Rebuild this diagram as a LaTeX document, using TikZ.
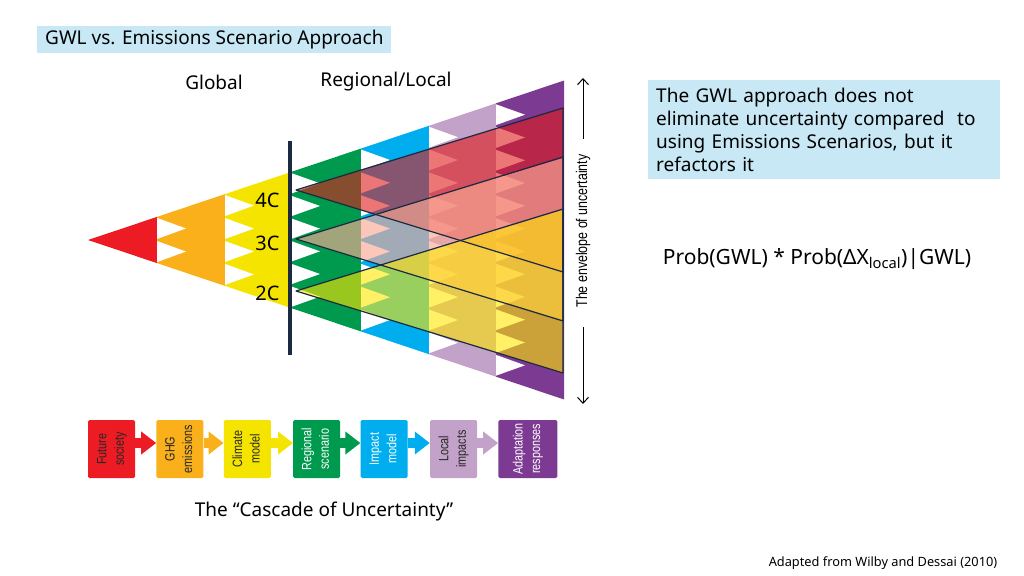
\documentclass[tikz,border=0pt]{standalone}
\usepackage{fontspec}
\setmainfont{Noto Sans}
\newfontfamily\narrowfont[FakeStretch=0.8]{Liberation Sans}
\usetikzlibrary{arrows.meta,positioning}
\definecolor{cRed}{HTML}{ED1C24}
\definecolor{cOrange}{HTML}{F9B01A}
\definecolor{cYellow}{HTML}{F5E400}
\definecolor{cGreen}{HTML}{009A4E}
\definecolor{cBlue}{HTML}{00AEEF}
\definecolor{cLilac}{HTML}{C2A2C8}
\definecolor{cPurple}{HTML}{7D3A92}
\definecolor{boxblue}{HTML}{C8E8F5}
\definecolor{navy}{HTML}{1B2A41}
\definecolor{warm4}{HTML}{E01A1A}
\definecolor{warm3}{HTML}{FAAA96}
\definecolor{warm2}{HTML}{FFE600}
\tikzset{
  chainbox/.style={minimum width=47pt, minimum height=58pt, rounded corners=1.5pt,
    inner sep=0pt, font=\narrowfont\fontsize{13.5}{17.5}\selectfont},
  chainarrow/.style={line width=10pt, -{Triangle[length=15pt,width=22pt]}},
  gwl/.style={draw=navy, line width=1.2pt, line join=round},
  txt/.style={font=\fontsize{19}{23}\selectfont}
}
\newcommand\turn[2]{\rotatebox{90}{\begin{tabular}{@{}c@{}}#1\\#2\end{tabular}}}

\begin{document}
\begin{tikzpicture}[x=1pt,y=-1pt]
  \useasboundingbox (0,0) rectangle (1024,575);
  \def\sl{0.335}
  \fill[cRed](88,240)--(157,{240-\sl*69})--(157,{240+\sl*69})--cycle;
  \foreach \xl/\xr/\col/\n in {157/225/cOrange/2, 225/291/cYellow/4, 291/361/cGreen/6,
      361/429/cBlue/8, 429/496/cLilac/10, 496/564/cPurple/12}{
    \pgfmathsetmacro\hl{\sl*(\xl-88)}
    \pgfmathsetmacro\hr{\sl*(\xr-88)}
    \pgfmathsetmacro\dh{2*\hl/\n}
    \fill[\col](\xl,240-\hl)--(\xr,240-\hr)--(\xr,240+\hr)--(\xl,240+\hl)--cycle;
    \foreach \j in {1,...,\n}
      \fill[white](\xl,{240-\hl+(\j-1)*\dh+1})--(\xl+29,{240-\hl+(\j-0.5)*\dh})
        --(\xl,{240-\hl+\j*\dh-1})--cycle;
  }
  \fill[warm4, fill opacity=0.6](296,190)--(563,108)--(563,272)--cycle;
  \fill[warm3, fill opacity=0.65](296,239)--(563,158)--(563,320)--cycle;
  \fill[warm2, fill opacity=0.6](296,291)--(563,210)--(563,373)--cycle;
  \foreach \ay in {190,239,291}
    \draw[gwl](296,\ay)--(563,\ay-82)--(563,\ay+82)--cycle;
  \draw[navy, line width=4pt](290,141)--(290,355);

  \node[font=\fontsize{20}{20}\selectfont, anchor=east] (t4) at (283,200) {4C};
  \node[font=\fontsize{20}{20}\selectfont, anchor=east] (t3) at (283,243) {3C};
  \node[font=\fontsize{20}{20}\selectfont, anchor=east] (t2) at (283,293) {2C};
  \node[txt] (glob) at (214,82) {Global};
  \node[txt] (reg) at (386,82) {Regional/Local};

  \node[rotate=90, font=\narrowfont\fontsize{15.5}{15}\selectfont] (env) at (583,231)
    {The envelope of uncertainty};
  \coordinate (envtop) at (583,78);
  \coordinate (envbot) at (583,404);
  \draw[-{Straight Barb[length=6pt,width=11pt]}, line width=1pt, shorten <=12pt]
    (env.east)--(envtop);
  \draw[-{Straight Barb[length=6pt,width=11pt]}, line width=1pt, shorten <=16pt]
    (env.west)--(envbot);

  \node[chainbox, fill=cRed, text=black!85] (fut) at (111.5,449) {\turn{Future}{society}};
  \node[chainbox, fill=cOrange, text=black!85, right=21pt of fut] (ghg) {\turn{GHG}{emissions}};
  \node[chainbox, fill=cYellow, text=black!85, right=20pt of ghg] (clim) {\turn{Climate}{model}};
  \node[chainbox, fill=cGreen, text=white, right=22pt of clim] (regsc) {\turn{Regional}{scenario}};
  \node[chainbox, fill=cBlue, text=white, right=20pt of regsc] (imp) {\turn{Impact}{model}};
  \node[chainbox, fill=cLilac, text=black!85, right=22pt of imp] (loc) {\turn{Local}{impacts}};
  \node[chainbox, fill=cPurple, text=white, minimum width=59pt, right=21pt of loc] (adapt)
    {\turn{Adaptation}{responses}};
  \draw[chainarrow, cRed]([yshift=6pt]fut.east)--([yshift=6pt]ghg.west);
  \draw[chainarrow, cOrange]([yshift=6pt]ghg.east)--([yshift=6pt]clim.west);
  \draw[chainarrow, cYellow]([yshift=6pt]clim.east)--([yshift=6pt]regsc.west);
  \draw[chainarrow, cGreen]([yshift=6pt]regsc.east)--([yshift=6pt]imp.west);
  \draw[chainarrow, cBlue]([yshift=6pt]imp.east)--([yshift=6pt]loc.west);
  \draw[chainarrow, cLilac]([yshift=6pt]loc.east)--([yshift=6pt]adapt.west);

  \node[txt] (casc) at (324,512) {The “Cascade of Uncertainty”};
  \node[txt, fill=boxblue, anchor=west, inner xsep=8pt, minimum height=27pt] (title)
    at (37,39.5) {GWL vs. Emissions Scenario Approach};
  \node[txt, fill=boxblue, anchor=north west, align=left, text width=336pt,
    inner xsep=8pt, inner ysep=4pt, minimum height=99pt] (note) at (648,80)
    {The GWL approach does not\\eliminate uncertainty compared\ \ to\\
     using Emissions Scenarios, but it\\refactors it};
  \node[font=\fontsize{21}{24}\selectfont] (prob) at (817,259)
    {Prob(GWL) * Prob(ΔX\textsubscript{local})|GWL)};
  \node[font=\fontsize{12.8}{15}\selectfont] (src) at (883,563) {Adapted from Wilby and Dessai (2010)};
\end{tikzpicture}
\end{document}
